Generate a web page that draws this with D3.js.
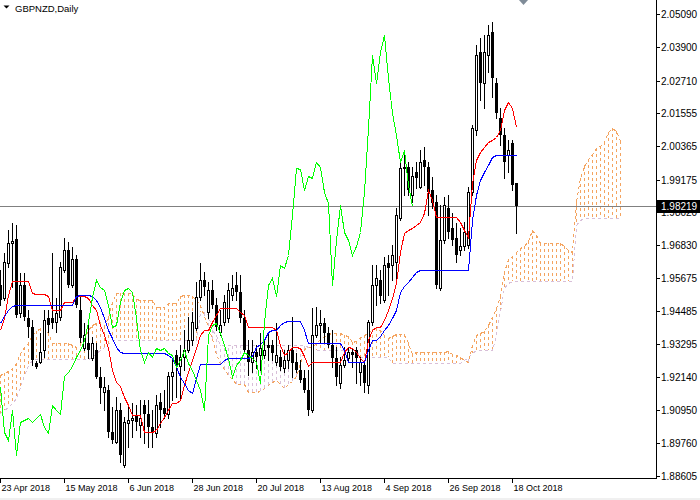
<!DOCTYPE html>
<html><head><meta charset="utf-8">
<script src="https://cdn.jsdelivr.net/npm/d3@7"></script>
<style>html,body{margin:0;padding:0;background:#fff;overflow:hidden}</style>
</head><body>
<svg id="c" width="700" height="500"></svg>
<script>
const chartTitle = "GBPNZD,Daily";
const dateLabels = ["23 Apr 2018","15 May 2018","6 Jun 2018","28 Jun 2018","20 Jul 2018","13 Aug 2018","4 Sep 2018","26 Sep 2018","18 Oct 2018"];
const dateLabelBars = [0,16,32,48,64,80,96,112,128];
const priceLabels = [2.05090,2.03900,2.02710,2.01555,2.00365,1.99175,1.98020,1.96830,1.95675,1.94485,1.93295,1.92140,1.90950,1.89760,1.88605];
const lastPrice = 1.98219;

const open = [
1.9542,1.9495,1.9620,1.9691,1.9706,1.9442,1.9542,1.9424,1.9392,1.9263,
1.9267,1.9309,1.9424,1.9424,1.9409,1.9427,1.9595,1.9666,1.9542,1.9634,
1.9452,1.9317,1.9334,1.9281,1.9309,1.9213,1.9159,1.9167,1.9017,1.8981,
1.9095,1.8899,1.9049,1.9060,1.9078,1.9042,1.9113,1.9081,1.9035,1.9013,
1.9124,1.9103,1.9081,1.9217,1.9292,1.9253,1.9284,1.9309,1.9345,1.9388,
1.9499,1.9559,1.9445,1.9524,1.9470,1.9374,1.9409,1.9424,1.9506,1.9542,
1.9517,1.9424,1.9309,1.9267,1.9302,1.9292,1.9292,1.9327,1.9327,1.9267,
1.9284,1.9245,1.9274,1.9309,1.9267,1.9238,1.9210,1.9167,1.9095,1.9363,
1.9399,1.9406,1.9370,1.9327,1.9281,1.9192,1.9256,1.9281,1.9302,1.9309,
1.9231,1.9256,1.9185,1.9409,1.9542,1.9559,1.9488,1.9620,1.9613,1.9624,
1.9781,1.9963,1.9963,1.9863,1.9945,1.9891,1.9988,1.9963,1.9881,1.9838,
1.9531,1.9702,1.9816,1.9745,1.9709,1.9666,1.9681,1.9684,1.9874,2.0095,
2.0373,2.0263,2.0363,2.0445,2.0263,2.0138,2.0077,2.0006,2.0048,1.9906];
const high = [
1.9595,1.9656,1.9738,1.9763,1.9756,1.9584,1.9584,1.9452,1.9417,1.9270,
1.9370,1.9452,1.9452,1.9656,1.9495,1.9624,1.9709,1.9695,1.9677,1.9649,
1.9506,1.9406,1.9406,1.9356,1.9334,1.9249,1.9213,1.9185,1.9106,1.9142,
1.9120,1.9070,1.9106,1.9120,1.9113,1.9131,1.9131,1.9131,1.9095,1.9149,
1.9156,1.9167,1.9231,1.9274,1.9309,1.9327,1.9381,1.9427,1.9445,1.9552,
1.9620,1.9588,1.9552,1.9559,1.9495,1.9452,1.9506,1.9549,1.9577,1.9588,
1.9577,1.9452,1.9345,1.9345,1.9327,1.9370,1.9345,1.9370,1.9345,1.9406,
1.9309,1.9309,1.9327,1.9427,1.9299,1.9274,1.9238,1.9238,1.9459,1.9463,
1.9452,1.9424,1.9392,1.9381,1.9320,1.9284,1.9320,1.9320,1.9317,1.9320,
1.9284,1.9274,1.9417,1.9613,1.9613,1.9595,1.9642,1.9649,1.9684,1.9816,
1.9988,2.0016,1.9981,1.9963,1.9981,2.0024,2.0034,1.9981,1.9927,1.9863,
1.9827,1.9856,1.9863,1.9799,1.9763,1.9745,1.9766,1.9891,2.0113,2.0398,
2.0423,2.0434,2.0470,2.0480,2.0281,2.0173,2.0102,2.0059,2.0059,1.9906];
const low = [
1.9470,1.9488,1.9606,1.9534,1.9427,1.9427,1.9417,1.9356,1.9256,1.9245,
1.9263,1.9284,1.9374,1.9388,1.9374,1.9417,1.9588,1.9534,1.9534,1.9463,
1.9338,1.9309,1.9281,1.9274,1.9210,1.9120,1.9095,1.8999,1.8977,1.8977,
1.8910,1.8892,1.8963,1.8999,1.9024,1.8999,1.8977,1.8963,1.8963,1.8999,
1.9035,1.9067,1.9067,1.9131,1.9142,1.9138,1.9238,1.9302,1.9327,1.9381,
1.9488,1.9506,1.9424,1.9459,1.9381,1.9363,1.9399,1.9409,1.9488,1.9488,
1.9409,1.9302,1.9220,1.9231,1.9245,1.9238,1.9281,1.9274,1.9274,1.9256,
1.9238,1.9231,1.9245,1.9213,1.9231,1.9195,1.9159,1.9078,1.9088,1.9356,
1.9334,1.9334,1.9320,1.9249,1.9185,1.9174,1.9249,1.9267,1.9249,1.9192,
1.9185,1.9159,1.9156,1.9399,1.9470,1.9477,1.9481,1.9506,1.9559,1.9567,
1.9774,1.9863,1.9863,1.9838,1.9888,1.9888,1.9899,1.9791,1.9816,1.9531,
1.9524,1.9691,1.9709,1.9684,1.9624,1.9649,1.9666,1.9674,1.9863,2.0077,
2.0202,2.0173,2.0302,2.0213,2.0138,2.0041,1.9924,1.9945,1.9881,1.9727];
const close = [
1.9488,1.9624,1.9691,1.9699,1.9434,1.9542,1.9427,1.9392,1.9274,1.9249,
1.9302,1.9417,1.9399,1.9406,1.9442,1.9606,1.9666,1.9542,1.9634,1.9470,
1.9352,1.9363,1.9309,1.9334,1.9213,1.9174,1.9177,1.9017,1.8988,1.9095,
1.8935,1.9053,1.9060,1.9067,1.9053,1.9067,1.9081,1.9035,1.9013,1.9113,
1.9095,1.9081,1.9217,1.9231,1.9253,1.9284,1.9309,1.9345,1.9409,1.9499,
1.9559,1.9534,1.9524,1.9470,1.9392,1.9399,1.9481,1.9524,1.9531,1.9517,
1.9424,1.9309,1.9267,1.9302,1.9284,1.9317,1.9309,1.9317,1.9299,1.9292,
1.9249,1.9274,1.9309,1.9263,1.9238,1.9203,1.9167,1.9095,1.9363,1.9399,
1.9406,1.9370,1.9327,1.9281,1.9213,1.9256,1.9274,1.9302,1.9292,1.9281,
1.9267,1.9192,1.9409,1.9542,1.9567,1.9502,1.9613,1.9602,1.9649,1.9791,
1.9959,1.9956,1.9881,1.9931,1.9924,1.9981,1.9963,1.9874,1.9834,1.9542,
1.9702,1.9827,1.9731,1.9702,1.9649,1.9681,1.9731,1.9874,2.0102,2.0363,
2.0263,2.0373,2.0434,2.0281,2.0155,2.0077,1.9981,2.0024,1.9899,1.98219];
const tenkan = [
1.9381,1.9424,1.9506,1.9556,1.9556,1.9556,1.9556,1.9556,1.9513,1.9509,
1.9509,1.9509,1.9502,1.9452,1.9452,1.9452,1.9481,1.9481,1.9481,1.9502,
1.9502,1.9502,1.9495,1.9470,1.9452,1.9399,1.9363,1.9317,1.9238,1.9195,
1.9181,1.9142,1.9113,1.9078,1.9078,1.9078,1.9017,1.9017,1.9017,1.9024,
1.9049,1.9070,1.9095,1.9120,1.9120,1.9131,1.9185,1.9231,1.9274,1.9317,
1.9363,1.9381,1.9381,1.9409,1.9434,1.9459,1.9459,1.9459,1.9459,1.9459,
1.9445,1.9434,1.9392,1.9392,1.9392,1.9392,1.9392,1.9392,1.9392,1.9381,
1.9327,1.9292,1.9302,1.9320,1.9320,1.9317,1.9288,1.9253,1.9267,1.9267,
1.9267,1.9267,1.9267,1.9267,1.9267,1.9267,1.9302,1.9320,1.9317,1.9302,
1.9281,1.9267,1.9345,1.9381,1.9392,1.9392,1.9417,1.9452,1.9495,1.9549,
1.9659,1.9727,1.9738,1.9745,1.9756,1.9766,1.9799,1.9881,1.9845,1.9784,
1.9784,1.9784,1.9784,1.9784,1.9784,1.9766,1.9738,1.9713,1.9906,1.9988,
2.0016,2.0034,2.0052,2.0059,2.0070,2.0095,2.0166,2.0195,2.0173,2.0106];
const kijun = [
1.9406,1.9431,1.9452,1.9467,1.9470,1.9470,1.9470,1.9470,1.9470,1.9470,
1.9470,1.9470,1.9470,1.9470,1.9470,1.9470,1.9470,1.9470,1.9470,1.9502,
1.9506,1.9506,1.9506,1.9502,1.9488,1.9463,1.9424,1.9381,1.9352,1.9320,
1.9302,1.9299,1.9299,1.9299,1.9299,1.9299,1.9299,1.9299,1.9299,1.9299,
1.9299,1.9299,1.9292,1.9281,1.9253,1.9213,1.9192,1.9167,1.9156,1.9210,
1.9260,1.9260,1.9260,1.9260,1.9260,1.9260,1.9274,1.9281,1.9281,1.9281,
1.9281,1.9281,1.9281,1.9288,1.9320,1.9331,1.9345,1.9374,1.9381,1.9381,
1.9399,1.9409,1.9413,1.9413,1.9413,1.9413,1.9381,1.9334,1.9334,1.9334,
1.9334,1.9334,1.9334,1.9334,1.9334,1.9334,1.9309,1.9267,1.9267,1.9267,
1.9267,1.9267,1.9309,1.9345,1.9345,1.9359,1.9381,1.9399,1.9424,1.9452,
1.9517,1.9538,1.9552,1.9570,1.9588,1.9595,1.9595,1.9595,1.9595,1.9595,
1.9595,1.9595,1.9595,1.9595,1.9595,1.9595,1.9595,1.9595,1.9774,1.9863,
1.9916,1.9945,1.9970,1.9999,2.0006,2.0006,2.0006,2.0006,2.0006,2.0006];
const spanA = [
1.9220,1.9227,1.9234,1.9245,1.9263,1.9299,1.9320,1.9334,1.9363,1.9377,
1.9388,1.9388,1.9370,1.9334,1.9334,1.9334,1.9334,1.9334,1.9327,1.9320,
1.9334,1.9352,1.9381,1.9399,1.9406,1.9409,1.9395,1.9427,1.9481,1.9513,
1.9513,1.9513,1.9513,1.9513,1.9492,1.9488,1.9488,1.9488,1.9488,1.9463,
1.9463,1.9463,1.9477,1.9477,1.9477,1.9502,1.9506,1.9506,1.9502,1.9488,
1.9470,1.9431,1.9395,1.9349,1.9295,1.9260,1.9242,1.9220,1.9206,1.9188,
1.9188,1.9188,1.9159,1.9159,1.9159,1.9163,1.9174,1.9185,1.9195,1.9203,
1.9188,1.9174,1.9188,1.9199,1.9217,1.9263,1.9313,1.9320,1.9320,1.9334,
1.9349,1.9359,1.9367,1.9370,1.9370,1.9370,1.9363,1.9359,1.9338,1.9342,
1.9356,1.9363,1.9370,1.9385,1.9388,1.9381,1.9363,1.9352,1.9359,1.9367,
1.9367,1.9367,1.9334,1.9295,1.9302,1.9302,1.9302,1.9302,1.9302,1.9302,
1.9302,1.9302,1.9306,1.9295,1.9292,1.9284,1.9274,1.9267,1.9327,1.9363,
1.9370,1.9377,1.9399,1.9427,1.9459,1.9502,1.9588,1.9634,1.9645,1.9659,
1.9674,1.9681,1.9699,1.9738,1.9720,1.9691,1.9691,1.9691,1.9691,1.9691,
1.9691,1.9681,1.9666,1.9659,1.9842,1.9925,1.9966,1.9990,2.0011,2.0029,
2.0038,2.0052,2.0088,2.0102,2.0091,2.0056];
const spanB = [
1.9085,1.9095,1.9106,1.9120,1.9138,1.9177,1.9220,1.9256,1.9274,1.9277,
1.9277,1.9277,1.9277,1.9277,1.9277,1.9277,1.9277,1.9277,1.9277,1.9277,
1.9277,1.9277,1.9277,1.9284,1.9299,1.9309,1.9320,1.9331,1.9345,1.9345,
1.9345,1.9345,1.9345,1.9345,1.9345,1.9345,1.9345,1.9345,1.9345,1.9345,
1.9345,1.9345,1.9345,1.9345,1.9345,1.9345,1.9345,1.9345,1.9345,1.9345,
1.9445,1.9445,1.9434,1.9381,1.9363,1.9327,1.9327,1.9327,1.9327,1.9327,
1.9327,1.9327,1.9327,1.9327,1.9327,1.9327,1.9327,1.9327,1.9327,1.9327,
1.9327,1.9327,1.9327,1.9327,1.9327,1.9327,1.9327,1.9320,1.9309,1.9309,
1.9309,1.9309,1.9309,1.9309,1.9309,1.9309,1.9309,1.9309,1.9309,1.9309,
1.9284,1.9284,1.9284,1.9284,1.9284,1.9284,1.9284,1.9284,1.9263,1.9263,
1.9263,1.9263,1.9263,1.9263,1.9263,1.9263,1.9263,1.9263,1.9263,1.9263,
1.9263,1.9263,1.9263,1.9263,1.9263,1.9263,1.9274,1.9284,1.9299,1.9309,
1.9309,1.9309,1.9309,1.9309,1.9363,1.9449,1.9531,1.9549,1.9556,1.9556,
1.9556,1.9556,1.9556,1.9556,1.9556,1.9556,1.9556,1.9556,1.9556,1.9556,
1.9556,1.9556,1.9556,1.9556,1.9756,1.9774,1.9781,1.9781,1.9781,1.9781,
1.9781,1.9781,1.9781,1.9781,1.9781,1.9781];
const chikouShift = 26;

// ---------- drawing ----------
const plotRight = 656, plotBottom = 478;
const svg = d3.select('#c');
const font = "'Liberation Sans', Arial, sans-serif";
const x = d3.scaleLinear().domain([0, 1]).range([0, 4]);
const y = d3.scaleLinear().domain([1.88811, 2.0559]).range([470, 0]);
const px = i => x(i) + 0.5;
const py = v => Math.round(y(v)) + 0.5;

svg.append('rect').attr('width', 700).attr('height', 500).attr('fill', '#fff');
svg.append('defs').append('clipPath').attr('id', 'clip')
  .append('rect').attr('x', 0).attr('y', 0).attr('width', plotRight).attr('height', plotBottom);
const g = svg.append('g').attr('clip-path', 'url(#clip)');

const ORANGE = '#F4A460', THISTLE = '#D8BFD8';

// Kumo hatch
g.append('g').selectAll('line').data(spanA).join('line')
  .attr('x1', (d, i) => px(i)).attr('x2', (d, i) => px(i))
  .attr('y1', d => Math.round(y(d))).attr('y2', (d, i) => Math.round(y(spanB[i])))
  .attr('stroke', (d, i) => d >= spanB[i] ? ORANGE : THISTLE)
  .attr('stroke-width', 1).attr('stroke-dasharray', '3,3')
  .attr('shape-rendering', 'crispEdges');

const lineGen = d3.line().x((d, i) => px(i)).y(d => py(d));
g.append('path').datum(spanB).attr('d', lineGen).attr('fill', 'none')
  .attr('stroke', THISTLE).attr('stroke-dasharray', '3,3').attr('shape-rendering', 'crispEdges');
g.append('path').datum(spanA).attr('d', lineGen).attr('fill', 'none')
  .attr('stroke', ORANGE).attr('stroke-dasharray', '3,3').attr('shape-rendering', 'crispEdges');

// last price line
g.append('line').attr('x1', 0).attr('x2', plotRight).attr('y1', py(lastPrice)).attr('y2', py(lastPrice))
  .attr('stroke', '#808080').attr('shape-rendering', 'crispEdges');

// candles
const cg = g.append('g').attr('shape-rendering', 'crispEdges');
close.forEach((c, i) => {
  const o = open[i];
  cg.append('line').attr('x1', px(i)).attr('x2', px(i))
    .attr('y1', Math.round(y(high[i]))).attr('y2', Math.round(y(low[i])) + 1).attr('stroke', '#000');
  const yo = Math.round(y(o)), yc = Math.round(y(c));
  if (c >= o) {
    cg.append('rect').attr('x', x(i) - 0.5).attr('y', yc + 0.5)
      .attr('width', 2).attr('height', Math.max(yo - yc, 0))
      .attr('fill', '#fff').attr('stroke', '#000');
  } else {
    cg.append('rect').attr('x', x(i) - 1).attr('y', yo)
      .attr('width', 3).attr('height', Math.max(yc - yo, 1)).attr('fill', '#000');
  }
});

// Tenkan, Kijun, Chikou
g.append('path').datum(tenkan).attr('d', lineGen).attr('fill', 'none').attr('stroke', '#FF0000').attr('shape-rendering', 'crispEdges');
g.append('path').datum(kijun).attr('d', lineGen).attr('fill', 'none').attr('stroke', '#0000FF').attr('shape-rendering', 'crispEdges');
g.append('path').datum(close.slice(chikouShift)).attr('d', lineGen).attr('fill', 'none').attr('stroke', '#00FF00').attr('shape-rendering', 'crispEdges');

// axes frame
svg.append('line').attr('x1', plotRight + 0.5).attr('x2', plotRight + 0.5).attr('y1', 0).attr('y2', plotBottom + 1)
  .attr('stroke', '#000').attr('shape-rendering', 'crispEdges');
svg.append('line').attr('x1', 0).attr('x2', plotRight + 1).attr('y1', plotBottom + 0.5).attr('y2', plotBottom + 0.5)
  .attr('stroke', '#000').attr('shape-rendering', 'crispEdges');

// price axis
const pa = svg.append('g');
priceLabels.forEach(p => {
  const yy = Math.round(y(p)) + 0.5;
  pa.append('line').attr('x1', plotRight + 1).attr('x2', plotRight + 4).attr('y1', yy).attr('y2', yy)
    .attr('stroke', '#000').attr('shape-rendering', 'crispEdges');
  pa.append('text').attr('x', 661).attr('y', yy).attr('dy', '0.35em')
    .attr('font-family', font).attr('font-size', 10).attr('fill', '#000').text(p.toFixed(5));
});
// last price box
const ly = Math.round(y(lastPrice));
svg.append('rect').attr('x', 657).attr('y', ly - 6).attr('width', 43).attr('height', 13).attr('fill', '#000');
svg.append('text').attr('x', 661).attr('y', ly + 0.5).attr('dy', '0.35em')
  .attr('font-family', font).attr('font-size', 10).attr('fill', '#fff').text(lastPrice.toFixed(5));

// date axis
dateLabels.forEach((t, k) => {
  const xx = px(dateLabelBars[k]);
  svg.append('line').attr('x1', xx).attr('x2', xx).attr('y1', plotBottom + 1).attr('y2', plotBottom + 5)
    .attr('stroke', '#000').attr('shape-rendering', 'crispEdges');
  svg.append('text').attr('x', xx + 1).attr('y', 491)
    .attr('font-family', font).attr('font-size', 9).attr('fill', '#000').text(t);
});

// title
svg.append('path').attr('d', 'M3.5,5.5 L9.5,5.5 L6.5,8.5 Z').attr('fill', '#000');
svg.append('text').attr('x', 15).attr('y', 11.5).attr('font-family', font).attr('font-size', 9.5)
  .attr('fill', '#000').text(chartTitle);

// chart shift marker
svg.append('path').attr('d', 'M519,0 L528,0 L523.5,5 Z').attr('fill', '#7f8c98');

// bottom window edge
svg.append('rect').attr('x', 0).attr('y', 498).attr('width', 700).attr('height', 2).attr('fill', '#f0f0f0');
</script>
</body></html>
